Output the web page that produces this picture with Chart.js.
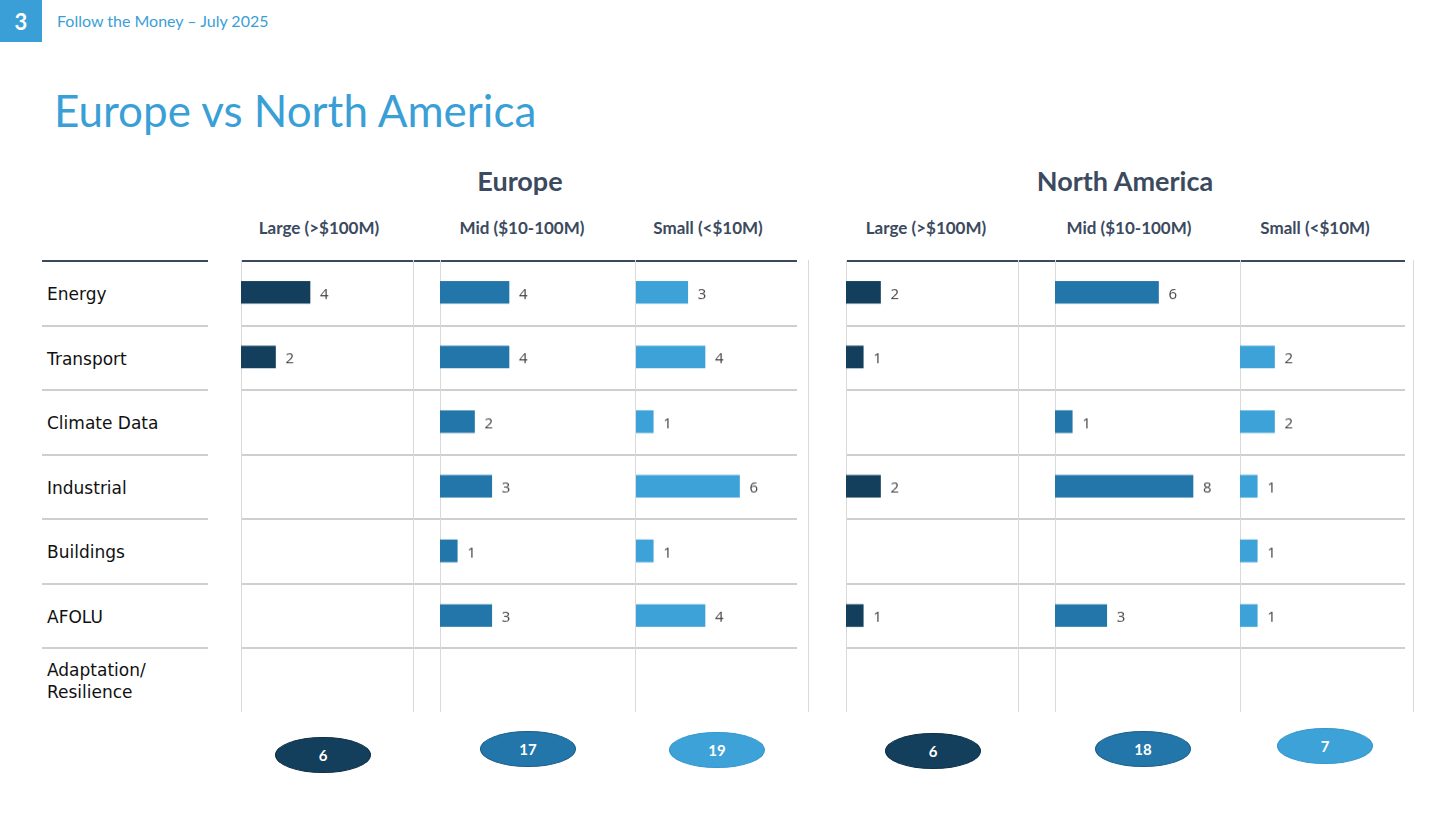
<!DOCTYPE html>
<html><head><meta charset="utf-8">
<script src="https://cdn.jsdelivr.net/npm/chart.js@4"></script>
<style>
body{margin:0;width:1456px;height:819px;background:#fff;position:relative;overflow:hidden;font-family:Lato,sans-serif}
.abs{position:absolute}
.hl{position:absolute;height:2px;background:#cfcfcf}
.vl{position:absolute;width:1px;background:#d9d9d9;top:260px;height:452px}
.rl{position:absolute;left:47px;font-family:"DejaVu Sans",Verdana,sans-serif;font-size:17px;color:#111;line-height:22px}
.ch{position:absolute;top:217px;font-weight:bold;font-size:17px;color:#3b4a5e;transform:translateX(-50%);white-space:nowrap}
.ell{position:absolute;width:96px;height:36px;border-radius:50%;color:#fff;font-weight:bold;font-size:15px;display:flex;align-items:center;justify-content:center;transform:translate(-50%,-50%);border:1px solid #0d2f45;box-sizing:border-box}
</style></head><body>
<div class="abs" style="left:0;top:0;width:42px;height:42px;background:#3a9fd6;color:#fff;font-size:22px;font-weight:bold;display:flex;align-items:center;justify-content:center">3</div>
<div class="abs" style="left:57px;top:11px;font-size:16px;color:#3a9fd6">Follow the Money – July 2025</div>
<div class="abs" style="left:54px;top:84px;font-size:44px;color:#3a9fd6">Europe vs North America</div>
<div class="abs" style="left:520px;top:164px;font-size:27px;font-weight:bold;color:#3b4a5e;transform:translateX(-50%)">Europe</div>
<div class="abs" style="left:1125px;top:164px;font-size:27px;font-weight:bold;color:#3b4a5e;transform:translateX(-50%);white-space:nowrap">North America</div>
<div id="root"></div>
<script>
const categories=["Energy","Transport","Climate Data","Industrial","Buildings","AFOLU","Adaptation/\nResilience"];
const columnLabels=["Large (>$100M)","Mid ($10-100M)","Small (<$10M)"];
const europeLarge=[4,2,null,null,null,null,null];
const europeMid=[4,4,2,3,1,3,null];
const europeSmall=[3,4,1,6,1,4,null];
const naLarge=[2,1,null,2,null,1,null];
const naMid=[6,null,1,8,null,3,null];
const naSmall=[null,2,2,1,1,1,null];
const colors=["#133f5c","#2276aa","#3ca2d8"];

const root=document.getElementById('root');
function el(cls,style,html){const d=document.createElement('div');d.className=cls;d.style.cssText=style;if(html!==undefined)d.innerHTML=html;root.appendChild(d);return d;}
// row labels
const rowTop=260,rowH=64.5;
categories.forEach((c,i)=>{const lines=c.split('\n');el('rl','top:'+(rowTop+i*rowH+rowH/2-lines.length*11+2)+'px',lines.join('<br>'));});
// horizontal lines
for(let i=0;i<7;i++){const y=rowTop+i*rowH;const col=i==0?'#3b4a5e':'#cfcfcf';
 [[42,208],[241,797],[846,1405]].forEach(([a,b])=>el('hl','left:'+a+'px;top:'+y+'px;width:'+(b-a)+'px;background:'+col+(i==0?';height:1.5px':'')));}
[241,413,440,635,808,846,1018,1055,1240,1413].forEach(x=>el('vl','left:'+x+'px'));
const panels=[
 {data:europeLarge,c:0,x:241,w:172,hx:319,ex:323,ey:755},
 {data:europeMid,c:1,x:440,w:195,hx:522,ex:528,ey:749},
 {data:europeSmall,c:2,x:636,w:161,hx:708,ex:717,ey:750},
 {data:naLarge,c:0,x:846,w:172,hx:926,ex:933,ey:751},
 {data:naMid,c:1,x:1055,w:185,hx:1129,ex:1143,ey:749},
 {data:naSmall,c:2,x:1240,w:165,hx:1315,ex:1325,ey:746}];
const unitPx=17.25;
const labelPlugin={id:'lbl',afterDatasetsDraw(ch){const ctx=ch.ctx;const m=ch.getDatasetMeta(0);
 ctx.save();ctx.font='15px "Open Sans"';ctx.fillStyle='#444';ctx.textBaseline='middle';
 m.data.forEach((b,i)=>{const v=ch.data.datasets[0].data[i];if(v==null)return;ctx.fillText(String(v),b.x+10,b.y+2);});ctx.restore();}};
panels.forEach(p=>{
 el('ch','left:'+p.hx+'px',columnLabels[p.c]);
 const tot=p.data.reduce((a,b)=>a+(b||0),0);
 el('ell','left:'+p.ex+'px;top:'+p.ey+'px;background:'+colors[p.c]+';border-color:'+(p.c==0?'#0d2f45':p.c==1?'#1b5f8a':'#3496cc'),String(tot));
 const w=el('abs','left:'+p.x+'px;top:'+rowTop+'px;width:'+p.w+'px;height:'+(rowH*7)+'px');
 const cv=document.createElement('canvas');w.appendChild(cv);
 new Chart(cv,{type:'bar',data:{labels:categories,datasets:[{data:p.data,backgroundColor:colors[p.c],barThickness:22}]},
  options:{indexAxis:'y',responsive:true,maintainAspectRatio:false,animation:false,layout:{padding:0},
   plugins:{legend:{display:false},tooltip:{enabled:false}},
   scales:{x:{display:false,min:0,max:p.w/unitPx},y:{display:false,offset:true}}},plugins:[labelPlugin]});
});
</script>
</body></html>
